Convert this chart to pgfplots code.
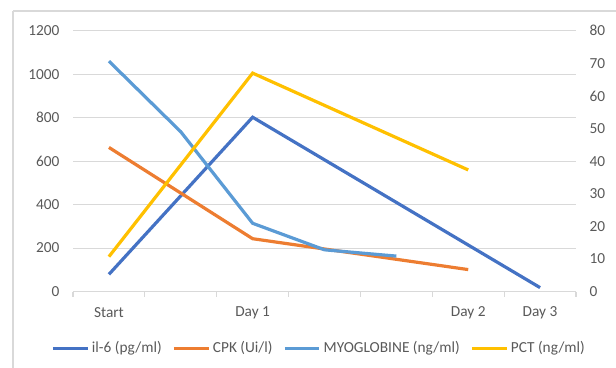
\documentclass[border=0pt]{standalone}
\usepackage{pgfplots}
\pgfplotsset{compat=1.18}
\usepackage{fontspec}
\setmainfont{Carlito}
\definecolor{cIL}{HTML}{4472C4}
\definecolor{cCPK}{HTML}{ED7D31}
\definecolor{cMYO}{HTML}{5B9BD5}
\definecolor{cPCT}{HTML}{FFC000}
\definecolor{txt}{HTML}{595959}
\definecolor{grd}{HTML}{D9D9D9}
\begin{document}
\begin{tikzpicture}[x=0.75pt,y=0.75pt]
\useasboundingbox (0,0) rectangle (616,367);
\begin{scope}
\clip (0,0) rectangle (616,367);
\draw[grd, line width=1pt] (13,356) -- (13,-10) (13,356) -- (630,356);
\end{scope}
\pgfplotsset{
  myaxis/.style={
    at={(54.75pt,56.6pt)}, anchor=south west,
    scale only axis, width=377.25pt, height=195.6pt,
    xmin=0.5, xmax=7.5, ymin=0,
    font=\fontsize{11.5}{13}\selectfont, 
    tick label style={text=txt},
    /pgf/number format/assume math mode=true,
    /pgf/number format/1000 sep={},
    scaled y ticks=false,
    y axis line style={draw=none},
    major tick length=0pt,
  }
}
\begin{axis}[myaxis,
  ymax=1200, ytick={0,200,...,1200},
  axis x line*=bottom, axis y line*=left,
  x axis line style={draw=grd, line width=0.8pt},
  ymajorgrids, grid style={grd, line width=0.8pt},
  yticklabel style={anchor=east, inner sep=0pt, xshift=-10pt},
  xtick={1,...,7}, xticklabels={Start,,Day 1,,,Day 2,Day 3},
  xticklabel style={anchor=center, inner sep=0pt, yshift=-16pt},
  extra x ticks={0.5,1.5,...,7.5}, extra x tick labels={},
  extra x tick style={major tick length=4pt, tick align=outside, xmajorgrids=false, tick style={grd, line width=0.8pt}},
  legend columns=4,
  legend style={at={(0.49,-0.217)}, anchor=center, draw=none, fill=none,
    font=\fontsize{11.5}{13}\selectfont, text=txt,
    /tikz/every even column/.append style={column sep=6pt},
    inner sep=0pt},
  legend cell align=left,
  legend image code/.code={\draw[#1, line width=2.4pt] (0pt,0pt) -- (26pt,0pt);},
  every axis plot/.append style={line width=2.4pt, mark=none},
]
\addplot[cIL] coordinates {(1,79) (3,802) (7,18)};
\addlegendentry{il-6 (pg/ml)}
\addplot[cCPK] coordinates {(1,663) (3,243) (6,101)};
\addlegendentry{CPK (Ui/l)}
\addplot[cMYO] coordinates {(1,1060) (2,735) (3,314) (4,192) (5,163)};
\addlegendentry{MYOGLOBINE (ng/ml)}
\addlegendimage{cPCT}
\addlegendentry{PCT (ng/ml)}
\end{axis}
\begin{axis}[myaxis,
  ymax=80, ytick={0,10,...,80},
  axis y line*=right, hide x axis,
  yticklabel style={anchor=west, inner sep=0pt, xshift=10pt},
  every axis plot/.append style={line width=2.4pt, mark=none},
]
\addplot[cPCT] coordinates {(1,10.7) (3,67) (6,37.3)};
\end{axis}
\end{tikzpicture}
\end{document}
